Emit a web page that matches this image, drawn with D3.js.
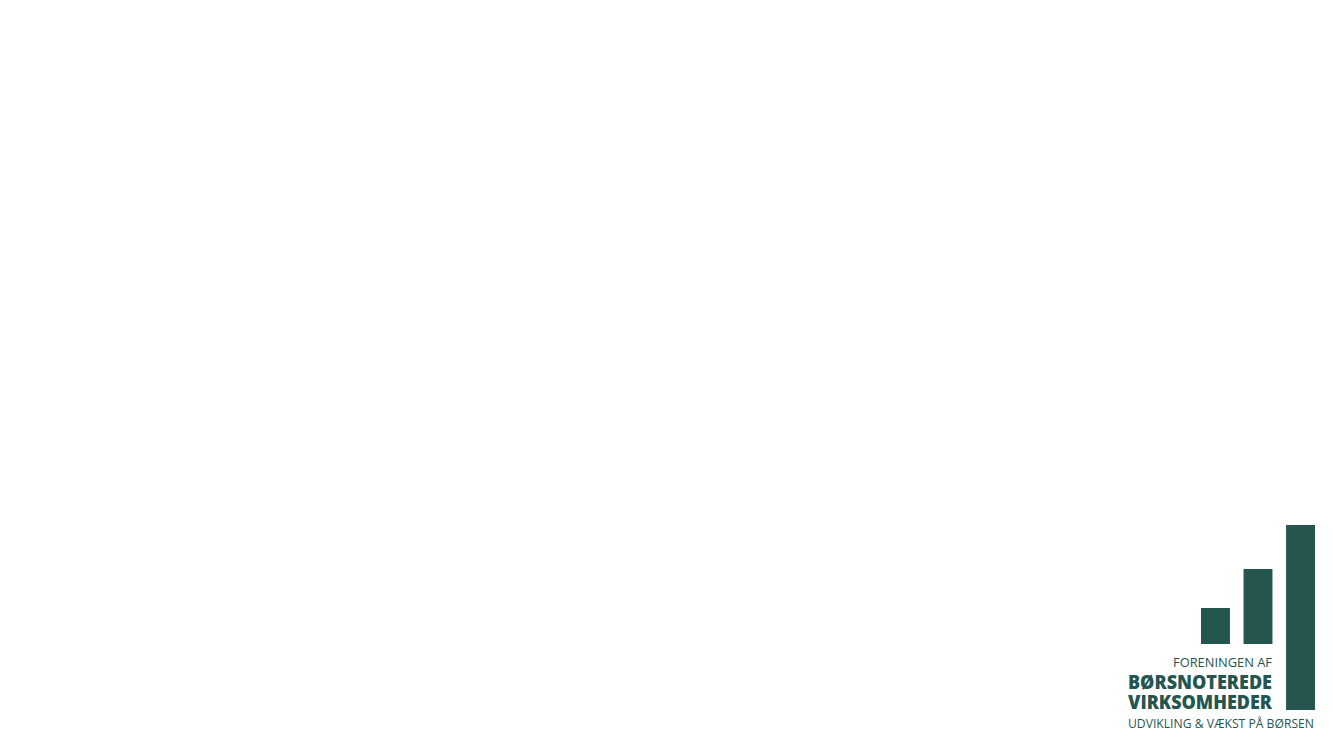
<!DOCTYPE html>
<html>
<head>
<meta charset="utf-8">
<style>
  html, body {
    margin: 0;
    padding: 0;
    background: #fff;
  }
  svg {
    display: block;
  }
  .logo text {
    font-family: "Open Sans", sans-serif;
    fill: #24564f;
  }
</style>
<script src="https://cdn.jsdelivr.net/npm/d3@7/dist/d3.min.js"></script>
</head>
<body>
<div id="vis"></div>
<script>
  // logo bars: bottom and top of each bar, in units above the common baseline
  var barKeys = ['small', 'medium', 'large'];
  var barLows = [0, 0, -66];
  var barHighs = [36, 75, 119];

  var logoLines = ['FORENINGEN AF', 'BØRSNOTEREDE', 'VIRKSOMHEDER', 'UDVIKLING & VÆKST PÅ BØRSEN'];

  var width = 1333, height = 750;
  var green = '#24564f';

  var svg = d3.select('#vis').append('svg')
    .attr('width', width)
    .attr('height', height);

  svg.append('rect')
    .attr('width', width)
    .attr('height', height)
    .attr('fill', '#fff');

  var x = d3.scaleBand()
    .domain(barKeys)
    .range([1201, 1315])
    .paddingInner(0.32)
    .paddingOuter(0);

  var y = d3.scaleLinear()
    .domain([0, 119])
    .range([644, 525]);

  var bars = barKeys.map((k, i) => ({key: k, lo: barLows[i], hi: barHighs[i]}));

  var logo = svg.append('g').attr('class', 'logo');

  logo.selectAll('.bar')
    .data(bars)
    .enter().append('rect')
    .attr('class', 'bar')
    .attr('x', d => x(d.key))
    .attr('width', x.bandwidth())
    .attr('y', d => y(d.hi))
    .attr('height', d => y(d.lo) - y(d.hi))
    .attr('fill', green);

  // text block under the two short bars
  var lineStyle = [
    {x: 1272, y: 666.5, size: 12.5, weight: 400, len: 99},
    {x: 1272, y: 688.5, size: 19.5, weight: 800, len: 144},
    {x: 1272, y: 708.5, size: 19.5, weight: 800, len: 144},
    {x: 1314, y: 727.5, size: 13.5, weight: 400, len: 186}
  ];

  logo.selectAll('.logo-line')
    .data(logoLines)
    .enter().append('text')
    .attr('class', 'logo-line')
    .attr('x', (d, i) => lineStyle[i].x)
    .attr('y', (d, i) => lineStyle[i].y)
    .attr('text-anchor', 'end')
    .attr('font-size', (d, i) => lineStyle[i].size + 'px')
    .attr('font-weight', (d, i) => lineStyle[i].weight)
    .attr('textLength', (d, i) => lineStyle[i].len)
    .attr('lengthAdjust', 'spacingAndGlyphs')
    .text(d => d);
</script>
</body>
</html>
